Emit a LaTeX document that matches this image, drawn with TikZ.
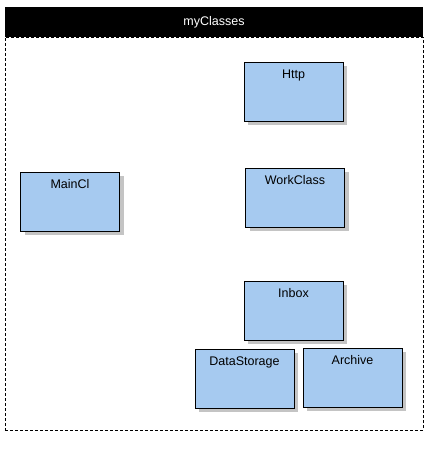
\documentclass[tikz,border=0pt]{standalone}
\usepackage{fontspec}
\setmainfont{Liberation Sans}
\usetikzlibrary{positioning, shadows}
\definecolor{classblue}{RGB}{166,202,240}
\definecolor{shadowgray}{RGB}{196,196,196}

\begin{document}
\begin{tikzpicture}[x=1pt, y=1pt, node distance=9pt,
    every node/.style={font=\fontsize{12.5}{14}\selectfont},
    classbox/.style={draw=black, line width=0.8pt, fill=classblue, outer sep=0pt,
        minimum width=99pt, inner xsep=2pt, inner ysep=7pt, text height=9pt, text depth=36pt,
        drop shadow={shadow xshift=4pt, shadow yshift=-4pt, fill=shadowgray, opacity=1}}]
    \useasboundingbox (0,0) rectangle (434,-452);

    % package frame
    \node (body) [draw, dash pattern=on 3pt off 2pt, line width=0.8pt, outer sep=0pt, inner sep=0pt,
        minimum width=418pt, minimum height=393pt, anchor=north west] at (5,-37) {};
    \node (pkg) [fill=black, text=white, outer sep=0pt, inner sep=0pt,
        minimum width=418pt, minimum height=30pt, anchor=south west] at (5,-37) {myClasses};

    % classes
    \node (http) [classbox] at (293.5,-91.5) {Http};
    \node (work) [classbox, below=47pt of http, xshift=1.5pt] {WorkClass};
    \node (inbox) [classbox, below=54pt of work, xshift=-1.5pt] {Inbox};
    \node (storage) [classbox, below=of inbox, xshift=-49pt] {DataStorage};
    \node (archive) [classbox, right=of storage, yshift=1pt] {Archive};
    \node (maincl) [classbox] at (70,-201.5) {MainCl};

\end{tikzpicture}
\end{document}
